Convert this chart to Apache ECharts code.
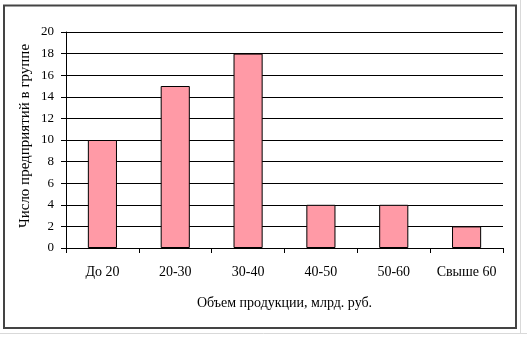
<!DOCTYPE html>
<html><head><meta charset="utf-8">
<script src="https://cdn.jsdelivr.net/npm/echarts@6/dist/echarts.min.js"></script>
<style>html,body{margin:0;padding:0;background:#fff}#c{width:527px;height:337px}</style>
</head><body><div id="c"></div>
<script>
const categories = ['До 20', '20-30', '30-40', '40-50', '50-60', 'Свыше 60'];
const counts = [10, 15, 18, 4, 4, 2];
const yTitle = 'Число предприятий в группе';
const xTitle = 'Объем продукции, млрд. руб.';

const chart = echarts.init(document.getElementById('c'), null, {renderer: 'canvas'});
const font = '"Liberation Serif", "Times New Roman", serif';
chart.setOption({
  animation: false,
  backgroundColor: '#fff',
  textStyle: {fontFamily: font},
  graphic: [
    {type: 'rect', shape: {x: 520.5, y: -1, width: 10, height: 336}, style: {fill: '#fff', stroke: '#d9d9d9', lineWidth: 1}, z: -1},
    {type: 'rect', shape: {x: -1, y: 333.5, width: 530, height: 10}, style: {fill: '#fff', stroke: '#d9d9d9', lineWidth: 1}, z: -1},
    {type: 'rect', shape: {x: 4, y: 5.5, width: 512, height: 322.5}, style: {fill: 'none', stroke: '#444', lineWidth: 2}},
    {type: 'text', rotation: Math.PI/2, x: 25, y: 136,
      style: {text: yTitle, font: '15px ' + font, fill: '#000', textAlign: 'center', textVerticalAlign: 'middle'}}
  ],
  grid: {left: 66, right: 24, top: 32, bottom: 89},
  xAxis: {
    type: 'category', data: categories, boundaryGap: true,
    axisLine: {show: true, lineStyle: {color: '#000', width: 1}},
    axisTick: {show: true, interval: 0, alignWithLabel: false, length: 5, lineStyle: {color: '#000'}},
    axisLabel: {color: '#000', fontSize: 14, fontFamily: font, margin: 17, interval: 0},
    name: xTitle, nameLocation: 'middle', nameGap: 48,
    nameTextStyle: {color: '#000', fontSize: 14, fontFamily: font}
  },
  yAxis: {
    type: 'value', min: 0, max: 20, interval: 2,
    axisLine: {show: true, lineStyle: {color: '#000', width: 1}},
    axisTick: {show: true, length: 5, lineStyle: {color: '#000'}},
    axisLabel: {color: '#000', fontSize: 13, fontFamily: font, margin: 12},
    splitLine: {show: true, lineStyle: {color: '#000', width: 1}}
  },
  series: [{
    type: 'bar', data: counts, barWidth: '40%',
    itemStyle: {color: '#ff9aa6', borderColor: '#000', borderWidth: 1}
  }]
});
</script></body></html>
